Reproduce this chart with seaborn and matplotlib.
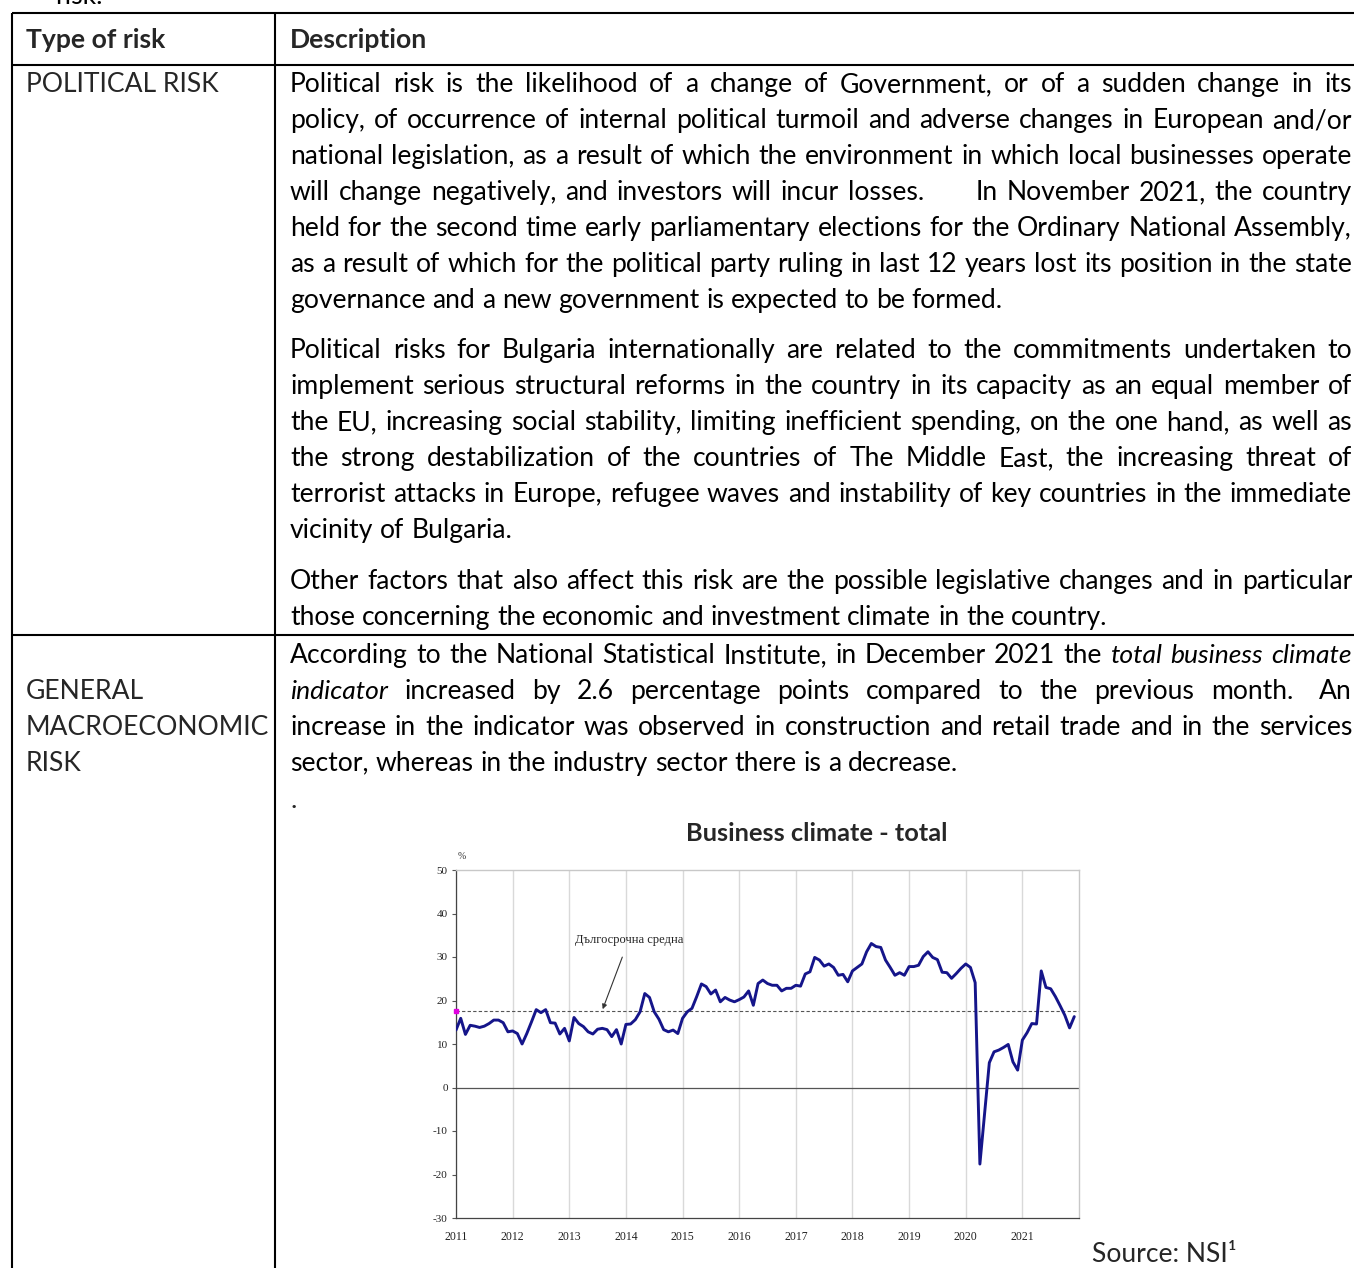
import numpy as np
import pandas as pd
import matplotlib
matplotlib.use("Agg")
import matplotlib.pyplot as plt
import seaborn as sns

# Business climate - total (monthly, %)
years = list(range(2011, 2022))
y2011 = [13.2, 15.9, 12.2, 14.3, 14.1, 13.8, 14.1, 14.7, 15.5, 15.5, 14.9, 12.8]
y2012 = [13.0, 12.4, 10.0, 12.4, 15.1, 17.9, 17.2, 17.9, 14.9, 14.8, 12.3, 13.6]
y2013 = [10.7, 16.1, 14.7, 14.0, 12.8, 12.3, 13.4, 13.6, 13.3, 11.7, 13.3, 10.0]
y2014 = [14.5, 14.6, 15.6, 17.4, 21.6, 20.7, 17.4, 15.7, 13.3, 12.8, 13.2, 12.4]
y2015 = [15.9, 17.4, 18.2, 20.9, 23.8, 23.2, 21.5, 22.4, 19.7, 20.7, 20.1, 19.7]
y2016 = [20.2, 20.8, 22.2, 18.9, 23.9, 24.7, 23.9, 23.5, 23.5, 22.2, 22.8, 22.8]
y2017 = [23.5, 23.3, 26.1, 26.6, 29.9, 29.3, 27.9, 28.4, 27.6, 25.8, 26.0, 24.3]
y2018 = [26.8, 27.6, 28.4, 31.2, 33.1, 32.4, 32.2, 29.3, 27.6, 25.8, 26.4, 25.8]
y2019 = [27.8, 27.8, 28.1, 30.1, 31.2, 29.9, 29.4, 26.5, 26.4, 25.1, 26.2, 27.4]
y2020 = [28.4, 27.6, 24.1, -17.6, -6.0, 5.7, 8.2, 8.6, 9.2, 9.9, 5.9, 4.0]
y2021 = [10.9, 12.6, 14.7, 14.6, 26.8, 23.0, 22.7, 20.9, 18.8, 16.6, 13.7, 16.3]
long_term_avg = 17.5
yticks = list(range(-30, 51, 10))

# document text
header = ["Type of risk", "Description"]
row1_label = ["POLITICAL RISK"]
row2_label = ["GENERAL", "MACROECONOMIC", "RISK"]
para1 = [
    "Political risk is the likelihood of a change of Government, or of a sudden change in its",
    "policy, of occurrence of internal political turmoil and adverse changes in European and/or",
    "national legislation, as a result of which the environment in which local businesses operate",
    "will change negatively, and investors will incur losses. | In November 2021, the country",
    "held for the second time early parliamentary elections for the Ordinary National Assembly,",
    "as a result of which for the political party ruling in last 12 years lost its position in the state",
    "governance and a new government is expected to be formed.",
]
para2 = [
    "Political risks for Bulgaria internationally are related to the commitments undertaken to",
    "implement serious structural reforms in the country in its capacity as an equal member of",
    "the EU, increasing social stability, limiting inefficient spending, on the one hand, as well as",
    "the strong destabilization of the countries of The Middle East, the increasing threat of",
    "terrorist attacks in Europe, refugee waves and instability of key countries in the immediate",
    "vicinity of Bulgaria.",
]
para3 = [
    "Other factors that also affect this risk are the possible legislative changes and in particular",
    "those concerning the economic and investment climate in the country.",
]
para4 = [
    "According to the National Statistical Institute, in December 2021 the _total _business _climate",
    "_indicator increased by 2.6 percentage points compared to the previous month. ^ An",
    "increase in the indicator was observed in construction and retail trade and in the services",
    "sector, whereas in the industry sector there is a decrease.",
]

vals = y2011 + y2012 + y2013 + y2014 + y2015 + y2016 + y2017 + y2018 + y2019 + y2020 + y2021
df = pd.DataFrame({
    "year": np.repeat(years, 12),
    "month": np.tile(np.arange(12), len(years)),
    "value": vals,
})
df["t"] = df["year"] + df["month"] / 12

sns.set_style("white")
plt.rcParams["font.family"] = ["Lato", "DejaVu Sans"]

W, H = 1354, 1268
fig = plt.figure(figsize=(W / 100, H / 100), dpi=100)
doc = fig.add_axes([0, 0, 1, 1])
doc.set_xlim(0, W)
doc.set_ylim(H, 0)
doc.axis("off")
renderer = fig.canvas.get_renderer()

X0, X1 = 290, 1352


def text_width(s, size, style="normal", weight="normal"):
    t = doc.text(0, 0, s, fontsize=size, style=style, weight=weight)
    w = t.get_window_extent(renderer).width
    t.remove()
    return w


def line_parts(line, size):
    words, extras = [], []
    extra = 0
    for tok in line.split(" "):
        if tok == "|":
            extra += 2.2 * size
            continue
        if tok == "^":
            extra += 0.5 * size
            continue
        if words:
            extras.append(extra)
        extra = 0
        italic = tok.startswith("_")
        words.append((tok.lstrip("_"), "italic" if italic else "normal"))
    return words, extras


def natural_width(line, size):
    words, extras = line_parts(line, size)
    sp = text_width("a a", size) - text_width("aa", size)
    return sum(text_width(w, size, s) for w, s in words) + sp * (len(words) - 1) + sum(extras)


all_justified = para1[:-1] + para2[:-1] + para3[:-1] + para4[:-1]
base = 20
widest = max(natural_width(l, base) for l in all_justified)
FS = base * min(1.0, (X1 - X0) * 0.99 / widest)
SPACE = text_width("a a", FS) - text_width("aa", FS)


def draw_line(line, y, justify):
    words, extras = line_parts(line, FS)
    widths = [text_width(w, FS, s) for w, s in words]
    if justify and len(words) > 1:
        gap = (X1 - X0 - sum(widths) - sum(extras)) / (len(words) - 1)
    else:
        gap = SPACE
    x = X0
    for i, ((w, s), wd) in enumerate(zip(words, widths)):
        doc.text(x, y, w, fontsize=FS, style=s, va="baseline", ha="left", color="black")
        x += wd + gap
        if i < len(extras):
            x += extras[i]


def draw_para(lines, y0, step=36):
    for i, l in enumerate(lines):
        draw_line(l, y0 + i * step, justify=(i < len(lines) - 1))


# table rules
lw = 1.5
doc.plot([12, W], [13, 13], color="black", lw=lw, solid_capstyle="butt")
doc.plot([12, W], [65, 65], color="black", lw=lw, solid_capstyle="butt")
doc.plot([12, W], [635, 635], color="black", lw=lw, solid_capstyle="butt")
doc.plot([12, 12], [13, H], color="black", lw=lw, solid_capstyle="butt")
doc.plot([275, 275], [13, H], color="black", lw=lw, solid_capstyle="butt")

doc.text(55, 4, "risk.", fontsize=FS, va="baseline", color="black")
doc.text(26, 48, header[0], fontsize=FS, weight="bold", va="baseline")
doc.text(X0, 48, header[1], fontsize=FS, weight="bold", va="baseline")
doc.text(26, 92, row1_label[0], fontsize=FS, va="baseline")
for i, s in enumerate(row2_label):
    doc.text(26, 699 + i * 36, s, fontsize=FS, va="baseline")

draw_para(para1, 92)
draw_para(para2, 358)
draw_para(para3, 589)
draw_para(para4, 663)
doc.text(X0, 808, ".", fontsize=FS, va="baseline")
doc.text(817, 841, "Business climate - total", fontsize=FS * 0.96, weight="bold", ha="center", va="baseline")
doc.text(1092, 1262, "Source: NSI\u00b9", fontsize=FS, va="baseline")

# embedded chart
left, right, top, bottom = 456, 1079, 870, 1218
ax = fig.add_axes([left / W, 1 - bottom / H, (right - left) / W, (bottom - top) / H])
ax.set_facecolor("white")
ax.grid(axis="x", color="#d9d9d9", lw=1)
ax.axhline(0, color="#555555", lw=0.9, zorder=2)
ax.axhline(long_term_avg, color="#555555", lw=0.8, ls=(0, (3, 2)), zorder=2)
sns.lineplot(data=df, x="t", y="value", ax=ax, color="#15158a", lw=2.1, zorder=3)
ax.plot(2011.0, long_term_avg, marker="s", ms=2.5, color="#e000e0", clip_on=False, zorder=4)

ax.set_xlim(2011, 2022)
ax.set_ylim(-30, 50)
ax.set_xticks(years)
ax.set_yticks(yticks)
serif = ["Liberation Serif", "DejaVu Serif"]
ax.set_xticklabels([str(y) for y in years], fontsize=8.5, family=serif, color="#222222")
ax.set_yticklabels([str(v) for v in yticks], fontsize=8, family=serif, color="#222222")
ax.tick_params(axis="x", length=0, pad=9)
ax.tick_params(axis="y", length=3, width=0.8, color="#555555", pad=3, left=True)
ax.set_xlabel("")
ax.set_ylabel("")
for side in ["left", "bottom"]:
    ax.spines[side].set_color("#444444")
    ax.spines[side].set_linewidth(0.9)
for side in ["top", "right"]:
    ax.spines[side].set_color("#c8c8c8")
    ax.spines[side].set_linewidth(1.0)
ax.text(2011.1, 52.5, "%", fontsize=7, family=serif, color="#333333", ha="center")
ax.annotate("Дългосрочна средна", xy=(2013.59, 18.0), xytext=(2014.05, 33.9),
            fontsize=9, family=serif, color="#222222", ha="center", va="center",
            arrowprops=dict(arrowstyle="-|>", color="#333333", lw=0.8,
                            mutation_scale=7, shrinkA=6, shrinkB=0))

fig.savefig("out.png", dpi=100)
